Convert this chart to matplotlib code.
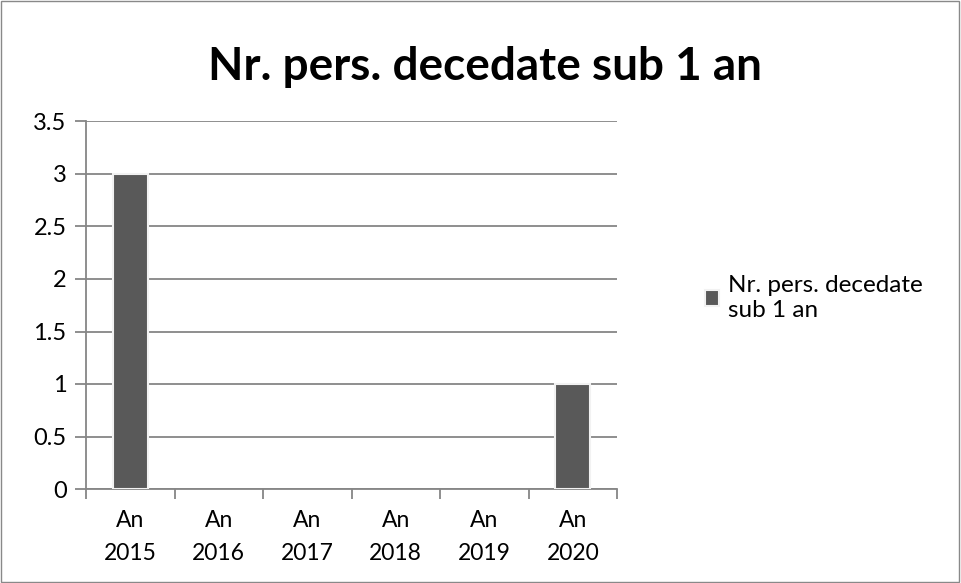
import matplotlib.pyplot as plt
from matplotlib.patches import Rectangle

# data
categories = ['An\n2015', 'An\n2016', 'An\n2017', 'An\n2018', 'An\n2019', 'An\n2020']
values = [3, 0, 0, 0, 0, 1]
series_name = 'Nr. pers. decedate\nsub 1 an'
title = 'Nr. pers. decedate sub 1 an'

BAR = '#595959'
GRID = '#868686'

plt.rcParams['font.family'] = ['Lato', 'DejaVu Sans']

fig = plt.figure(figsize=(9.61, 5.83), dpi=100)
fig.patches.append(Rectangle((0.001, 0.001), 0.997, 0.997, transform=fig.transFigure,
                             fill=False, edgecolor='#898989', lw=1))

W, H = 961, 583
left, right, top, bottom = 86, 617, 121.5, 489
ax = fig.add_axes([left / W, 1 - bottom / H, (right - left) / W, (bottom - top) / H])

x = list(range(len(categories)))
# no white outline on empty bars
edges = [1.5 if v else 0 for v in values]
ax.bar(x, values, width=0.4, color=BAR, edgecolor='#f2f2f2', linewidth=edges,
       label=series_name, zorder=3)

ax.set_xlim(-0.5, len(categories) - 0.5)
ax.set_ylim(0, 3.5)
ax.set_yticks([0, 0.5, 1, 1.5, 2, 2.5, 3, 3.5])
ax.set_yticklabels(['0', '0.5', '1', '1.5', '2', '2.5', '3', '3.5'])
ax.yaxis.grid(True, color=GRID, lw=1.3, zorder=0)
ax.set_axisbelow(True)

ax.set_xticks(x)
ax.set_xticklabels(categories, fontsize=16.5, linespacing=1.7)
ax.set_xticks([i - 0.5 for i in range(len(categories) + 1)], minor=True)
ax.tick_params(axis='x', which='major', length=0, pad=15)
ax.tick_params(axis='x', which='minor', length=7, width=1.3, color=GRID, direction='out')
ax.tick_params(axis='y', length=8, width=1.3, color=GRID, direction='out', labelsize=17, pad=6)

for s in ['top', 'right']:
    ax.spines[s].set_visible(False)
for s in ['left', 'bottom']:
    ax.spines[s].set_color(GRID)
    ax.spines[s].set_linewidth(1.3)

fig.text(485 / W, 1 - 67 / H, title, ha='center', va='center', fontsize=33, fontweight='bold')

fig.legend(loc='center left', bbox_to_anchor=(683 / W, 1 - 298 / H), frameon=False,
           fontsize=17.5, handlelength=0.6, handleheight=0.6, handletextpad=0.35,
           labelspacing=0.3)

fig.savefig('out.png', dpi=100)
